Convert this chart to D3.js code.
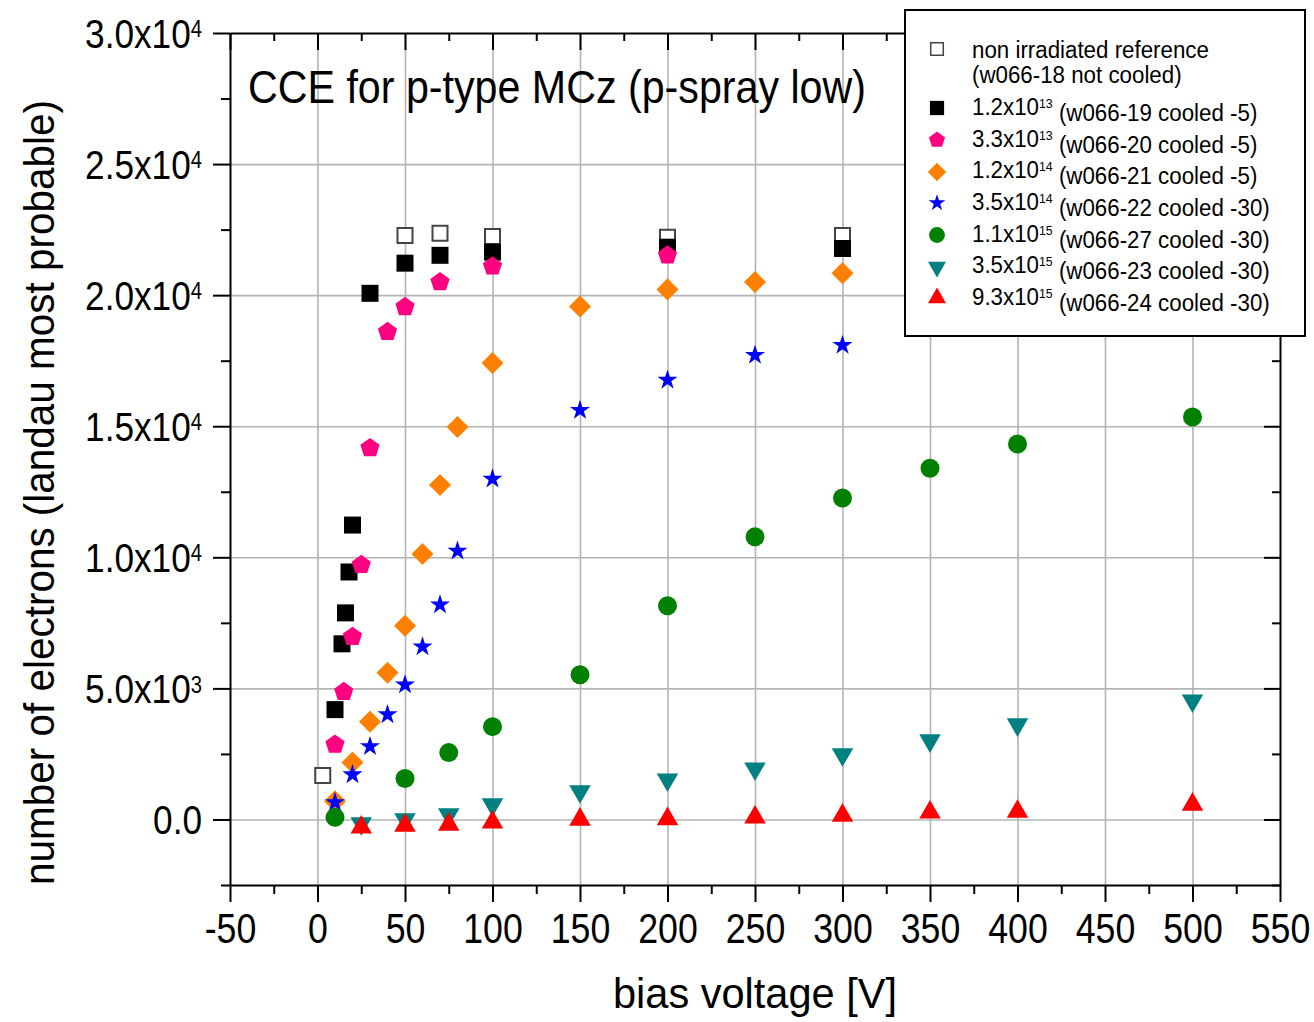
<html>

<head>
  <meta charset="utf-8">
  <script src="https://d3js.org/d3.v7.min.js"></script>
  <style>
    body { margin: 0; background: #fff; }
    text { font-family: "Liberation Sans", Arial, sans-serif; fill: #000; }
    .grid line { stroke: #b4b4b4; stroke-width: 1.6; }
    .grid .domain { stroke: none; }
    .axis .domain, .axis line { stroke: #000; stroke-width: 2; }
  </style>
</head>

<body>
  <svg id="chart" width="1314" height="1022"></svg>
  <script>
    // bias voltage [V] and number of electrons, one pair of arrays per sample
    const refVolts = [3, 50, 70, 100, 200, 300];
    const refElectrons = [1680, 22280, 22360, 22240, 22210, 22280];
    const w19Volts = [10, 14, 16, 18, 20, 30, 50, 70, 100, 200, 300];
    const w19Electrons = [4190, 6700, 7880, 9440, 11230, 20070, 21220, 21520, 21640, 21830, 21780];
    const w20Volts = [10, 15, 20, 25, 30, 40, 50, 70, 100, 200];
    const w20Electrons = [2860, 4870, 6970, 9710, 14170, 18600, 19550, 20500, 21100, 21520];
    const w21Volts = [10, 20, 30, 40, 50, 60, 70, 80, 100, 150, 200, 250, 300];
    const w21Electrons = [690, 2170, 3730, 5600, 7390, 10130, 12760, 14970, 17410, 19570, 20220, 20500, 20840];
    const w22Volts = [10, 20, 30, 40, 50, 60, 70, 80, 100, 150, 200, 250, 300];
    const w22Electrons = [650, 1710, 2780, 4000, 5140, 6590, 8190, 10240, 12990, 15610, 16760, 17710, 18090];
    const w27Volts = [10, 50, 75, 100, 150, 200, 250, 300, 350, 400, 500];
    const w27Electrons = [80, 1560, 2550, 3540, 5520, 8150, 10780, 12260, 13400, 14320, 15350];
    const w23Volts = [25, 50, 75, 100, 150, 200, 250, 300, 350, 400, 500];
    const w23Electrons = [-150, 0, 190, 570, 1070, 1520, 1940, 2480, 3010, 3620, 4530];
    const w24Volts = [25, 50, 75, 100, 150, 200, 250, 300, 350, 400, 500];
    const w24Electrons = [-300, -230, -190, -110, 0, 20, 80, 150, 270, 300, 570];

    // legend text: [fluence mantissa, exponent, rest]
    const legendLabels = [
      ["non irradiated reference", "", ""],
      ["1.2x10", "13", " (w066-19 cooled -5)"],
      ["3.3x10", "13", " (w066-20 cooled -5)"],
      ["1.2x10", "14", " (w066-21 cooled -5)"],
      ["3.5x10", "14", " (w066-22 cooled -30)"],
      ["1.1x10", "15", " (w066-27 cooled -30)"],
      ["3.5x10", "15", " (w066-23 cooled -30)"],
      ["9.3x10", "15", " (w066-24 cooled -30)"]
    ];
    const xTicks = [-50, 0, 50, 100, 150, 200, 250, 300, 350, 400, 450, 500, 550];
    const yTicks = [0, 5000, 10000, 15000, 20000, 25000, 30000];
    const yTickLabels = [["0.0", ""], ["5.0x10", "3"], ["1.0x10", "4"], ["1.5x10", "4"],
                         ["2.0x10", "4"], ["2.5x10", "4"], ["3.0x10", "4"]];

    const svg = d3.select("#chart");
    const margin = { top: 33, left: 230 };
    const chartWidth = 1050, chartHeight = 852;

    const xScale = d3.scaleLinear().domain([-50, 550]).range([0, chartWidth]);
    const yScale = d3.scaleLinear().domain([-2500, 30000]).range([chartHeight, 0]);

    const plot = svg.append("g").attr("transform", `translate(${margin.left},${margin.top})`);

    // gridlines
    plot.append("g").attr("class", "grid")
      .attr("transform", `translate(0,${chartHeight})`)
      .call(d3.axisBottom(xScale).tickValues(xTicks.slice(1, -1)).tickSize(-chartHeight).tickFormat(""));
    plot.append("g").attr("class", "grid")
      .call(d3.axisLeft(yScale).tickValues(yTicks.slice(0, -1)).tickSize(-chartWidth).tickFormat(""));

    // pentagon marker
    const symbolPentagon = {
      draw(ctx, size) {
        const r = Math.sqrt(size / (2.5 * Math.sin(2 * Math.PI / 5)));
        for (let i = 0; i < 5; i++) {
          const a = -Math.PI / 2 + i * 2 * Math.PI / 5;
          if (i === 0) ctx.moveTo(r * Math.cos(a), r * Math.sin(a));
          else ctx.lineTo(r * Math.cos(a), r * Math.sin(a));
        }
        ctx.closePath();
      }
    };

    const series = [
      { v: refVolts, e: refElectrons, type: d3.symbolSquare, size: 225, rot: 0, fill: "#fff", stroke: "#444" },
      { v: w19Volts, e: w19Electrons, type: d3.symbolSquare, size: 289, rot: 0, fill: "#000" },
      { v: w20Volts, e: w20Electrons, type: symbolPentagon, size: 243, rot: 0, fill: "#ff0080" },
      { v: w21Volts, e: w21Electrons, type: d3.symbolSquare, size: 243, rot: 45, fill: "#ff8000" },
      { v: w22Volts, e: w22Electrons, type: d3.symbolStar, size: 125, rot: 0, fill: "#0000ff" },
      { v: w27Volts, e: w27Electrons, type: d3.symbolCircle, size: 283, rot: 0, fill: "#008000" },
      { v: w23Volts, e: w23Electrons, type: d3.symbolTriangle, size: 200, rot: 180, fill: "#008080" },
      { v: w24Volts, e: w24Electrons, type: d3.symbolTriangle, size: 200, rot: 0, fill: "#ff0000" }
    ];

    const points = plot.append("g").attr("id", "points");
    series.forEach(s => {
      const pts = s.v.map((v, i) => [v, s.e[i]]);
      points.append("g").selectAll("path")
        .data(pts)
        .join("path")
        .attr("d", d3.symbol(s.type, s.size))
        .attr("transform", d => `translate(${xScale(d[0])},${yScale(d[1])}) rotate(${s.rot})`)
        .style("fill", s.fill)
        .style("stroke", s.stroke || "none")
        .style("stroke-width", s.stroke ? 2 : 0);
    });

    // axes: bottom/left outward ticks, top/right inward mirror ticks
    const minorX = d3.range(-25, 550, 50);
    const minorY = d3.range(-2500, 30000, 5000);

    const bottom = plot.append("g").attr("class", "axis")
      .attr("transform", `translate(0,${chartHeight})`)
      .call(d3.axisBottom(xScale).tickValues(xTicks).tickSize(17).tickSizeOuter(0).tickPadding(11)
        .tickFormat(d => String(d)));
    plot.append("g").attr("class", "axis")
      .attr("transform", `translate(0,${chartHeight})`)
      .call(d3.axisBottom(xScale).tickValues(minorX).tickSize(9).tickFormat(""))
      .select(".domain").remove();
    bottom.selectAll("text")
      .style("font-size", "42px")
      .attr("transform", function () { return `translate(0,${d3.select(this).attr("y")}) scale(0.85,1)`; })
      .attr("y", 0);

    const left = plot.append("g").attr("class", "axis")
      .call(d3.axisLeft(yScale).tickValues(yTicks).tickSize(17).tickSizeOuter(0));
    plot.append("g").attr("class", "axis")
      .call(d3.axisLeft(yScale).tickValues(minorY).tickSize(9).tickFormat(""))
      .select(".domain").remove();
    left.selectAll(".tick text")
      .text(null)
      .attr("x", 0)
      .attr("dy", "0.35em")
      .style("font-size", "40px")
      .attr("transform", "translate(-28,0) scale(0.88,1)")
      .each(function (d, i) {
        const t = d3.select(this);
        t.append("tspan").text(yTickLabels[i][0]);
        if (yTickLabels[i][1]) {
          t.append("tspan").attr("dy", "-0.45em").style("font-size", "23px").text(yTickLabels[i][1]);
        }
      });

    plot.append("g").attr("class", "axis")
      .call(d3.axisTop(xScale).tickValues(xTicks).tickSize(-17).tickSizeOuter(0).tickFormat(""));
    plot.append("g").attr("class", "axis")
      .call(d3.axisTop(xScale).tickValues(minorX).tickSize(-8).tickFormat(""))
      .select(".domain").remove();
    plot.append("g").attr("class", "axis")
      .attr("transform", `translate(${chartWidth},0)`)
      .call(d3.axisRight(yScale).tickValues(yTicks).tickSize(-16).tickSizeOuter(0).tickFormat(""));
    plot.append("g").attr("class", "axis")
      .attr("transform", `translate(${chartWidth},0)`)
      .call(d3.axisRight(yScale).tickValues(minorY).tickSize(-8).tickFormat(""))
      .select(".domain").remove();

    // titles
    svg.append("text")
      .attr("x", 248).attr("y", 103)
      .attr("textLength", 618).attr("lengthAdjust", "spacingAndGlyphs")
      .style("font-size", "46px")
      .text("CCE for p-type MCz (p-spray low)");
    svg.append("text")
      .attr("x", 613).attr("y", 1008)
      .attr("textLength", 284).attr("lengthAdjust", "spacingAndGlyphs")
      .style("font-size", "42px")
      .text("bias voltage [V]");
    svg.append("text")
      .attr("transform", "translate(54,885) rotate(-90)")
      .attr("textLength", 785).attr("lengthAdjust", "spacingAndGlyphs")
      .style("font-size", "42px")
      .text("number of electrons (landau most probable)");

    // legend
    const legend = svg.append("g").attr("id", "legend");
    legend.append("rect")
      .attr("x", 905).attr("y", 10).attr("width", 400).attr("height", 326)
      .style("fill", "#fff").style("stroke", "#000").style("stroke-width", 2);
    const markerY = [49, 108, 140, 172, 203, 235, 267, 298];
    const textY = [58, 115, 147, 178, 210, 242, 273, 305];
    series.forEach((s, i) => {
      legend.append("path")
        .attr("d", d3.symbol(s.type, s.size * 0.7))
        .attr("transform", `translate(937,${markerY[i]}) rotate(${s.rot})`)
        .style("fill", s.fill)
        .style("stroke", s.stroke || "none")
        .style("stroke-width", s.stroke ? 1.5 : 0);
      const t = legend.append("text")
        .attr("transform", `translate(972,${textY[i]}) scale(0.95,1)`)
        .style("font-size", "23.5px");
      t.append("tspan").text(legendLabels[i][0]);
      if (legendLabels[i][1]) {
        t.append("tspan").attr("dy", "-0.55em").style("font-size", "13px").text(legendLabels[i][1]);
        t.append("tspan").attr("dy", "0.55em").text(legendLabels[i][2]);
      }
    });
    legend.append("text")
      .attr("transform", "translate(972,83) scale(0.95,1)")
      .style("font-size", "23.5px")
      .text("(w066-18 not cooled)");
  </script>
</body>

</html>
